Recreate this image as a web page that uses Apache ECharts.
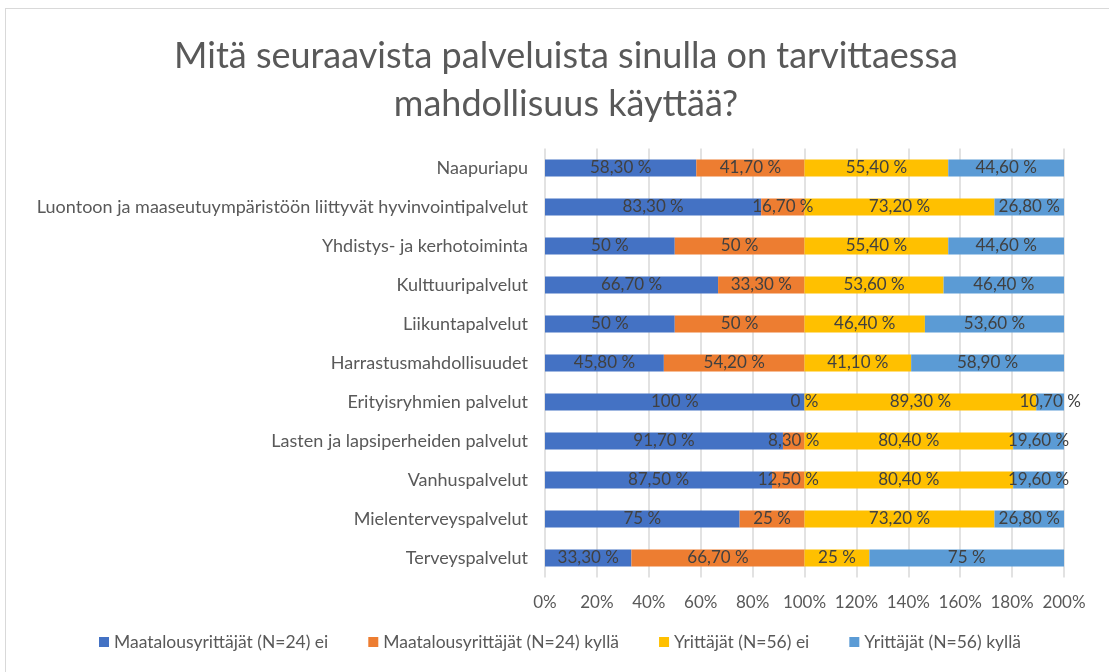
<!DOCTYPE html>
<html>
<head>
<meta charset="utf-8">
<script src="https://cdn.jsdelivr.net/npm/echarts@6/dist/echarts.min.js"></script>
<style>
  html, body { margin: 0; padding: 0; background: #fff; overflow: hidden; }
  #chart { position: absolute; left: 5px; top: 8px; width: 1110px; height: 664px; border: 1px solid #d9d9d9; border-bottom: none; box-sizing: border-box; }
</style>
</head>
<body>
<div id="chart"></div>
<script>
const categories = [
  'Naapuriapu',
  'Luontoon ja maaseutuympäristöön liittyvät hyvinvointipalvelut',
  'Yhdistys- ja kerhotoiminta',
  'Kulttuuripalvelut',
  'Liikuntapalvelut',
  'Harrastusmahdollisuudet',
  'Erityisryhmien palvelut',
  'Lasten ja lapsiperheiden palvelut',
  'Vanhuspalvelut',
  'Mielenterveyspalvelut',
  'Terveyspalvelut'
]
const seriesNames = [
  'Maatalousyrittäjät (N=24) ei',
  'Maatalousyrittäjät (N=24) kyllä',
  'Yrittäjät (N=56) ei',
  'Yrittäjät (N=56) kyllä'
]
const maatalousEi = [58.3, 83.3, 50, 66.7, 50, 45.8, 100, 91.7, 87.5, 75, 33.3]
const maatalousKylla = [41.7, 16.7, 50, 33.3, 50, 54.2, 0, 8.3, 12.5, 25, 66.7]
const yrittajatEi = [55.4, 73.2, 55.4, 53.6, 46.4, 41.1, 89.3, 80.4, 80.4, 73.2, 25]
const yrittajatKylla = [44.6, 26.8, 44.6, 46.4, 53.6, 58.9, 10.7, 19.6, 19.6, 26.8, 75]
const colors = ['#4472C4', '#ED7D31', '#FFC000', '#5B9BD5']

const font = 'Lato, "Open Sans", sans-serif'

function fmt(v) {
  const s = Number.isInteger(v) ? String(v) : v.toFixed(2).replace('.', ',')
  return s + ' %'
}

const chart = echarts.init(document.getElementById('chart'))
const data = [maatalousEi, maatalousKylla, yrittajatEi, yrittajatKylla]

chart.setOption({
  color: colors,
  title: {
    text: 'Mitä seuraavista palveluista sinulla on tarvittaessa\nmahdollisuus käyttää?',
    left: 555,
    textAlign: 'center',
    top: 18,
    textStyle: { fontFamily: font, fontSize: 36, fontWeight: 'normal', color: '#595959', lineHeight: 48 }
  },
  legend: {
    bottom: 16,
    left: 'center',
    itemWidth: 10,
    itemHeight: 10,
    itemGap: 40,
    icon: 'rect',
    textStyle: { fontFamily: font, fontSize: 17.5, color: '#595959' }
  },
  grid: { left: 539, right: 50, top: 139.5, bottom: 94.5, containLabel: false },
  xAxis: {
    type: 'value',
    min: 0,
    max: 200,
    interval: 20,
    axisLabel: { formatter: '{value}%', fontFamily: font, fontSize: 17, color: '#595959', margin: 17 },
    axisLine: { show: false },
    axisTick: { show: false },
    splitLine: { lineStyle: { color: '#d9d9d9', width: 1.5 } }
  },
  yAxis: {
    type: 'category',
    data: categories,
    inverse: true,
    axisLabel: { fontFamily: font, fontSize: 18, color: '#595959', margin: 17 },
    axisLine: { show: false },
    axisTick: { show: false }
  },
  series: data.map((vals, i) => ({
    name: seriesNames[i],
    type: 'bar',
    stack: 'total',
    barWidth: 17,
    data: vals,
    label: {
      show: true,
      position: 'inside',
      formatter: p => fmt(p.value),
      fontFamily: font,
      fontSize: 17,
      color: '#404040'
    }
  }))
})
</script>
</body>
</html>
